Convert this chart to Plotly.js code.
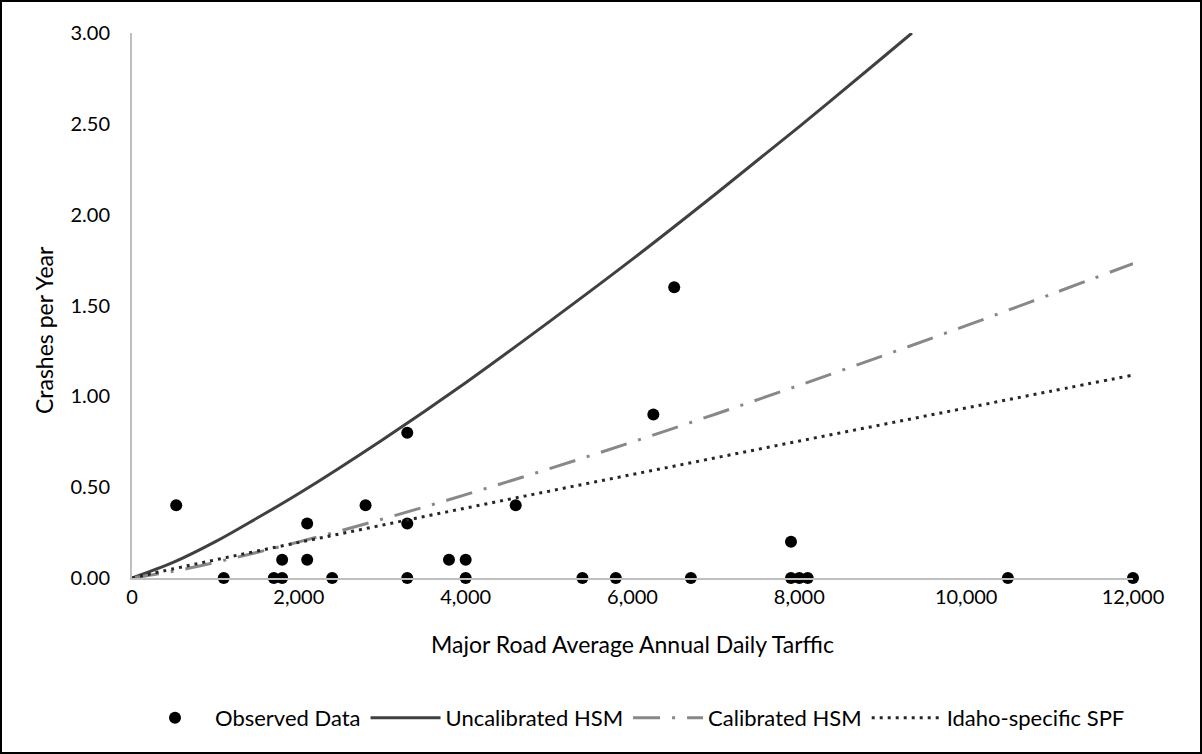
<!DOCTYPE html>
<html>
<head>
<meta charset="utf-8">
<script src="https://cdn.plot.ly/plotly-3.0.1.min.js"></script>
<style>
  html, body { margin: 0; padding: 0; background: #fff; }
  #wrap { position: relative; width: 1202px; height: 754px; }
  #chart { position: absolute; left: 0; top: 0; width: 1202px; height: 754px; }
  #frame { position: absolute; left: 0; top: 0; width: 1202px; height: 754px; box-sizing: border-box; border: 2px solid #000; pointer-events: none; }
</style>
</head>
<body>
<div id="wrap"><div id="chart"></div><div id="frame"></div></div>
<script>
// Observed data (Major road AADT, crashes per year)
const obsAADT    = [530, 1100, 1700, 1800, 1800, 2100, 2100, 2400, 2800, 3300, 3300, 3300, 3800, 4000, 4000, 4600, 5400, 5800, 6250, 6500, 6700, 7900, 7900, 8000, 8100, 10500, 12000];
const obsCrashes = [0.40, 0.00, 0.00, 0.00, 0.10, 0.10, 0.30, 0.00, 0.40, 0.00, 0.30, 0.80, 0.10, 0.10, 0.00, 0.40, 0.00, 0.00, 0.90, 1.60, 0.00, 0.00, 0.20, 0.00, 0.00, 0.00, 0.00];

// Uncalibrated HSM curve
const uncalAADT  = [0, 500, 1000, 1500, 2000, 3000, 4000, 5000, 6000, 7000, 8000, 9000, 9350];
const uncalVals  = [0, 0.087, 0.20, 0.33, 0.465, 0.76, 1.075, 1.41, 1.755, 2.115, 2.485, 2.865, 3.00];

// Calibrated HSM curve
const calAADT    = [0, 500, 1000, 2000, 3000, 4000, 5000, 6000, 7000, 8000, 9000, 10000, 11000, 12000];
const calVals    = [0, 0.037, 0.086, 0.199, 0.324, 0.459, 0.601, 0.749, 0.903, 1.061, 1.223, 1.389, 1.559, 1.731];

// Idaho-specific SPF curve
const idAADT     = [0, 500, 1000, 2000, 3000, 4000, 5000, 6000, 7000, 8000, 9000, 10000, 11000, 12000];
const idVals     = [0, 0.051, 0.100, 0.196, 0.291, 0.385, 0.478, 0.570, 0.662, 0.754, 0.845, 0.936, 1.027, 1.117];

const xTitle = 'Major Road Average Annual Daily Tarffic';
const yTitle = 'Crashes per Year';
const names  = ['Observed Data', 'Uncalibrated HSM', 'Calibrated HSM', 'Idaho-specific SPF'];

const FONT = 'Lato, "Open Sans", sans-serif';

const traces = [
  { x: obsAADT, y: obsCrashes, name: names[0], type: 'scatter', mode: 'markers',
    marker: { color: '#000000', size: 12 }, cliponaxis: false },
  { x: uncalAADT, y: uncalVals, name: names[1], type: 'scatter', mode: 'lines',
    line: { color: '#404040', width: 3, shape: 'spline' } },
  { x: calAADT, y: calVals, name: names[2], type: 'scatter', mode: 'lines',
    line: { color: '#888888', width: 3, shape: 'spline', dash: '27px,12px,3px,12px' } },
  { x: idAADT, y: idVals, name: names[3], type: 'scatter', mode: 'lines',
    line: { color: '#262626', width: 3, shape: 'spline', dash: '3px,5px' } }
];

const layout = {
  width: 1202, height: 754,
  margin: { l: 132, r: 69, t: 33, b: 176 },
  paper_bgcolor: '#ffffff', plot_bgcolor: '#ffffff',
  font: { family: FONT, size: 20, color: '#000000' },
  showlegend: true,
  legend: { orientation: 'h', x: 0.5, xanchor: 'center', y: -0.257, yanchor: 'middle',
            font: { family: FONT, size: 22, color: '#000' }, itemwidth: 70, traceorder: 'normal' },
  xaxis: {
    range: [0, 12000], dtick: 2000, tick0: 0, tickformat: ',d',
    showgrid: false, zeroline: false, showline: true, linecolor: '#bfbfbf', linewidth: 2,
    ticks: '', ticklen: 0, tickfont: { family: FONT, size: 20, color: '#000' },
    title: { text: xTitle, font: { family: FONT, size: 23, color: '#000' }, standoff: 30 }
  },
  yaxis: {
    range: [0, 3], dtick: 0.5, tick0: 0, tickformat: '.2f',
    showgrid: false, zeroline: false, showline: true, linecolor: '#bfbfbf', linewidth: 2,
    ticks: 'outside', ticklen: 16, tickcolor: 'rgba(0,0,0,0)',
    tickfont: { family: FONT, size: 20, color: '#000' }
  },
  annotations: [
    { text: yTitle, xref: 'paper', yref: 'paper', x: -0.0879, y: 0.455,
      xanchor: 'center', yanchor: 'middle', textangle: -90, showarrow: false,
      font: { family: FONT, size: 23, color: '#000' } }
  ]
};

Plotly.newPlot('chart', traces, layout, { staticPlot: true, displayModeBar: false });
</script>
</body>
</html>
